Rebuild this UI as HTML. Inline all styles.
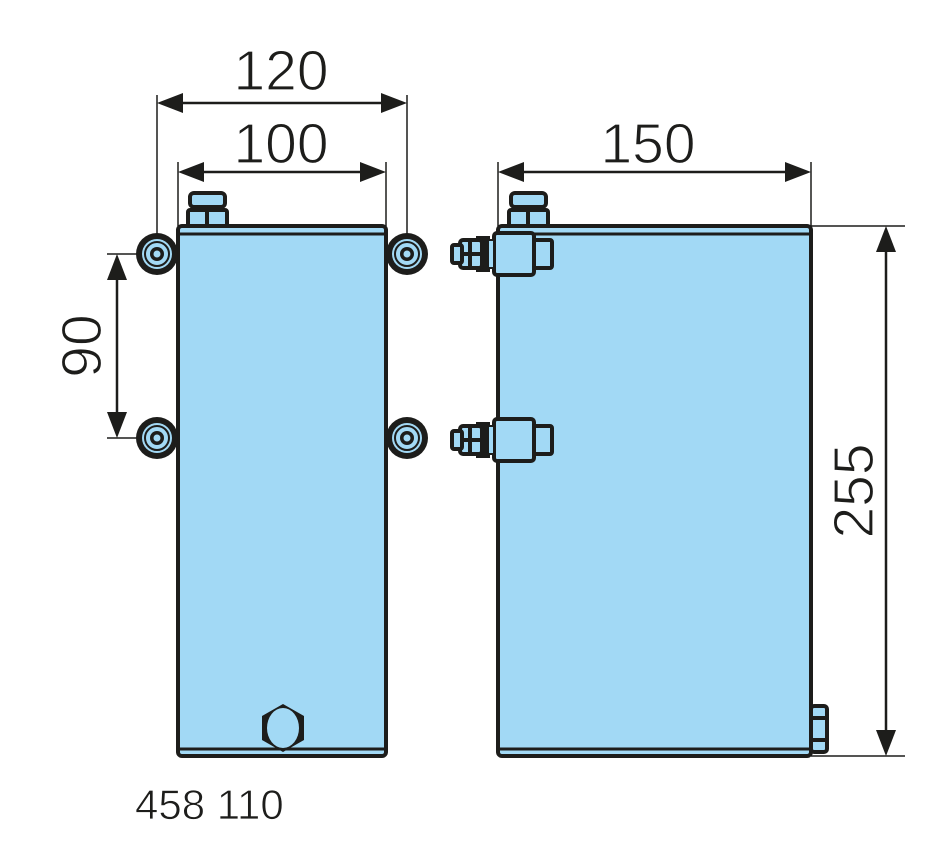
<!DOCTYPE html>
<html><head><meta charset="utf-8"><style>html,body{margin:0;padding:0;background:#fff}svg{display:block}</style></head>
<body>
<svg width="950" height="860" viewBox="0 0 950 860" xmlns="http://www.w3.org/2000/svg">
<defs>
<g id="mount">
 <circle r="21" fill="#1d1d1b"/>
 <circle r="15" fill="#a2d9f5"/>
 <circle r="12" fill="none" stroke="#1d1d1b" stroke-width="2"/>
 <circle r="7" fill="#1d1d1b"/>
 <circle r="3.5" fill="#a2d9f5"/>
</g>
<g id="fit">
 <rect x="494" y="-21" width="40" height="42" rx="3" fill="#a2d9f5" stroke="#1d1d1b" stroke-width="4"/>
 <rect x="534" y="-14" width="18" height="28" rx="2" fill="#a2d9f5" stroke="#1d1d1b" stroke-width="4"/>
 <rect x="476" y="-18" width="14" height="36" fill="#1d1d1b"/>
 <rect x="460" y="-14" width="22" height="28" rx="3" fill="#a2d9f5" stroke="#1d1d1b" stroke-width="4"/>
 <line x1="460" y1="0" x2="482" y2="0" stroke="#1d1d1b" stroke-width="4"/>
 <line x1="470" y1="-14" x2="470" y2="14" stroke="#1d1d1b" stroke-width="4"/>
 <rect x="452" y="-9" width="10" height="18" rx="2" fill="#a2d9f5" stroke="#1d1d1b" stroke-width="4"/>
 <rect x="488" y="-14" width="6" height="28" fill="#a2d9f5" stroke="#1d1d1b" stroke-width="2"/>
</g>
</defs>
<g stroke="#1d1d1b" stroke-width="1.5" fill="none">
 <line x1="157" y1="95" x2="157" y2="234"/>
 <line x1="407" y1="95" x2="407" y2="234"/>
 <line x1="178" y1="162" x2="178" y2="226"/>
 <line x1="386" y1="162" x2="386" y2="226"/>
 <line x1="498" y1="162" x2="498" y2="226"/>
 <line x1="811" y1="162" x2="811" y2="226"/>
 <line x1="811" y1="226" x2="905" y2="226"/>
 <line x1="811" y1="756" x2="905" y2="756"/>
 <line x1="107" y1="254" x2="157" y2="254"/>
 <line x1="107" y1="438" x2="157" y2="438"/>
</g>
<g stroke="#1d1d1b" stroke-width="2.5">
 <line x1="175" y1="103" x2="390" y2="103"/>
 <line x1="195" y1="172" x2="370" y2="172"/>
 <line x1="515" y1="172" x2="795" y2="172"/>
 <line x1="886" y1="245" x2="886" y2="738"/>
 <line x1="117" y1="272" x2="117" y2="420"/>
</g>
<g fill="#1d1d1b">
 <polygon points="157,103 183,93 183,113"/><polygon points="407,103 381,93 381,113"/>
 <polygon points="178,172 204,162 204,182"/><polygon points="386,172 360,162 360,182"/>
 <polygon points="498,172 524,162 524,182"/><polygon points="811,172 785,162 785,182"/>
 <polygon points="886,226 876,252 896,252"/><polygon points="886,756 876,730 896,730"/>
 <polygon points="117,254 107,280 127,280"/><polygon points="117,438 107,412 127,412"/>
</g>
<g fill="#a2d9f5" stroke="#1d1d1b" stroke-width="4">
 <rect x="190" y="193" width="35" height="14" rx="4"/>
 <rect x="188" y="210" width="39" height="16" rx="2"/>
 <rect x="511" y="193" width="35" height="14" rx="4"/>
 <rect x="509" y="210" width="39" height="16" rx="2"/>
</g>
<line x1="207" y1="210" x2="207" y2="226" stroke="#1d1d1b" stroke-width="4"/>
<line x1="528" y1="210" x2="528" y2="226" stroke="#1d1d1b" stroke-width="4"/>
<rect x="178" y="226" width="208" height="530" rx="4" fill="#a2d9f5" stroke="#1d1d1b" stroke-width="4"/>
<line x1="178" y1="234" x2="386" y2="234" stroke="#1d1d1b" stroke-width="3"/>
<line x1="178" y1="749" x2="386" y2="749" stroke="#1d1d1b" stroke-width="3"/>
<rect x="498" y="226" width="313" height="530" rx="4" fill="#a2d9f5" stroke="#1d1d1b" stroke-width="4"/>
<line x1="498" y1="234" x2="811" y2="234" stroke="#1d1d1b" stroke-width="3"/>
<line x1="498" y1="749" x2="811" y2="749" stroke="#1d1d1b" stroke-width="3"/>
<use href="#mount" x="157" y="254"/><use href="#mount" x="157" y="438"/>
<use href="#mount" x="407" y="254"/><use href="#mount" x="407" y="438"/>
<use href="#fit" x="0" y="254"/><use href="#fit" x="0" y="440"/>
<polygon points="283,704 304,716 304,740 283,752 262,740 262,716" fill="#1d1d1b"/>
<ellipse cx="283" cy="728" rx="16" ry="20" fill="#a2d9f5"/>
<rect x="811" y="706" width="16" height="46" rx="3" fill="#a2d9f5" stroke="#1d1d1b" stroke-width="4"/>
<line x1="811" y1="718" x2="827" y2="718" stroke="#1d1d1b" stroke-width="4"/>
<line x1="811" y1="740" x2="827" y2="740" stroke="#1d1d1b" stroke-width="4"/>
<g font-family="Liberation Sans, sans-serif" fill="#1d1d1b" font-size="57" text-anchor="middle" stroke="#fff" stroke-width="1.2">
 <text x="281" y="90">120</text>
 <text x="281" y="163">100</text>
 <text x="648" y="163">150</text>
 <text transform="translate(873,491) rotate(-90)">255</text>
 <text transform="translate(101,346) rotate(-90)">90</text>
</g>
<text x="135" y="819" font-family="Liberation Sans, sans-serif" font-size="42" fill="#1d1d1b" stroke="#fff" stroke-width="0.8">458 110</text>
</svg>
</body></html>
